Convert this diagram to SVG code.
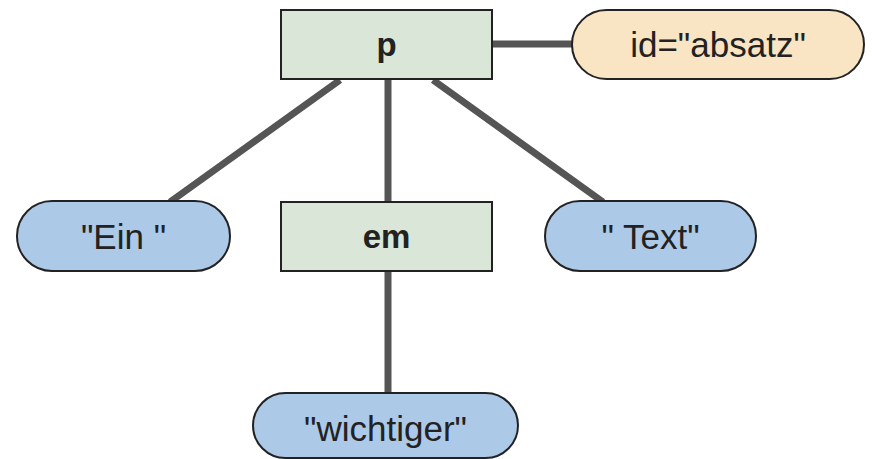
<svg xmlns="http://www.w3.org/2000/svg" width="872" height="459" viewBox="0 0 872 459">
  <style>
    .elem { fill: #d9e6d8; stroke: #222; stroke-width: 2; }
    .text { fill: #adc9e8; stroke: #222; stroke-width: 2; }
    .attr { fill: #f9e4c3; stroke: #222; stroke-width: 2; }
    .edge { stroke: #555; stroke-width: 7; fill: none; }
    .lbl { font-family: "Liberation Sans", Arial, sans-serif; font-size: 35px; fill: #222; text-anchor: middle; dominant-baseline: central; }
    .bold { font-weight: bold; font-size: 33px; }
  </style>
  <rect width="872" height="459" fill="#fff"/>
  <g id="connectors">
    <line class="edge" x1="492" y1="44" x2="572" y2="44"/>
    <line class="edge" x1="340" y1="80" x2="170" y2="202"/>
    <line class="edge" x1="388" y1="80" x2="388" y2="202"/>
    <line class="edge" x1="433" y1="80" x2="603" y2="202"/>
    <line class="edge" x1="388" y1="271" x2="388" y2="393"/>
  </g>
  <g id="node-p">
    <rect class="elem" x="281" y="10" width="211" height="69"/>
    <text class="lbl bold" x="386.5" y="44.5">p</text>
  </g>
  <g id="node-id">
    <rect class="attr" x="572" y="10" width="292" height="69" rx="34.5"/>
    <text class="lbl" x="718" y="44">id="absatz"</text>
  </g>
  <g id="node-ein">
    <rect class="text" x="17" y="201" width="213" height="70" rx="35"/>
    <text class="lbl" x="123.5" y="236">"Ein "</text>
  </g>
  <g id="node-em">
    <rect class="elem" x="281" y="202" width="211" height="69"/>
    <text class="lbl bold" x="386.5" y="236.5">em</text>
  </g>
  <g id="node-text">
    <rect class="text" x="545" y="201" width="211" height="70" rx="35"/>
    <text class="lbl" x="650.5" y="236">" Text"</text>
  </g>
  <g id="node-wichtiger">
    <rect class="text" x="253" y="393" width="265" height="65" rx="32.5"/>
    <text class="lbl" x="385.5" y="428">"wichtiger"</text>
  </g>
</svg>
